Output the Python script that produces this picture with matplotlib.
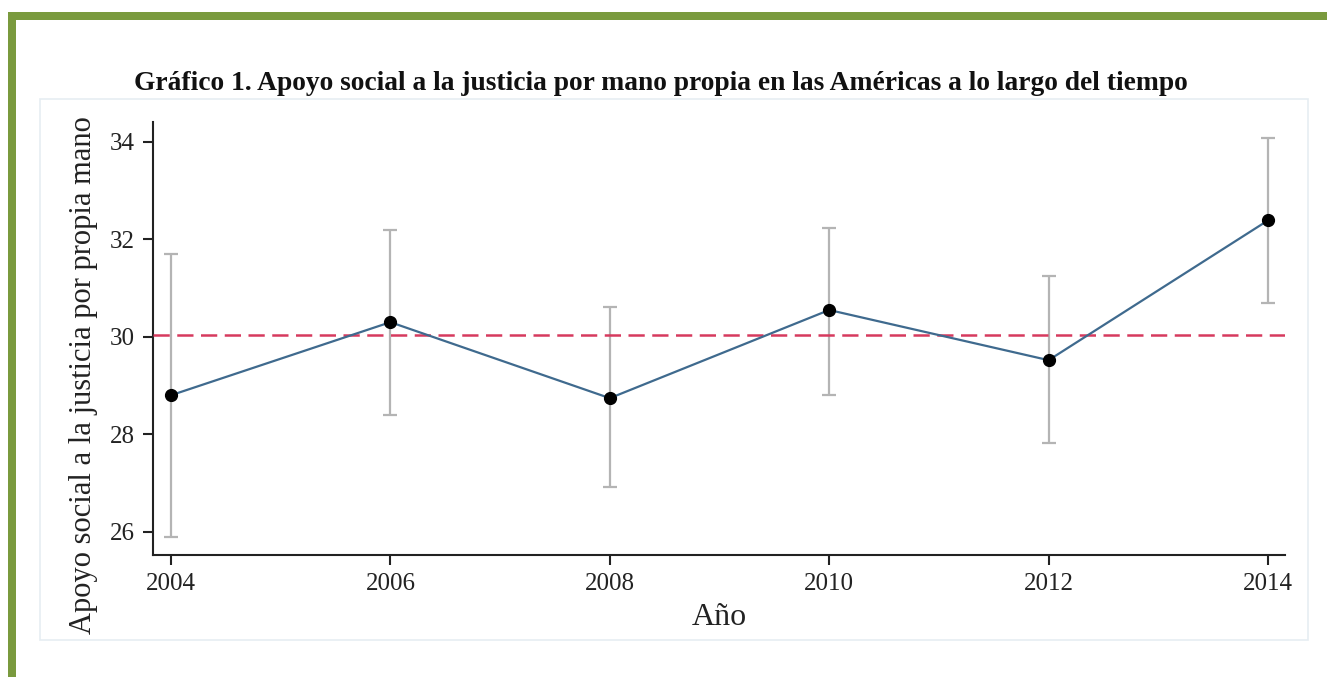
import matplotlib
matplotlib.use("Agg")
import matplotlib.pyplot as plt
from matplotlib.patches import Rectangle

years = [2004, 2006, 2008, 2010, 2012, 2014]
means = [28.80, 30.30, 28.74, 30.55, 29.52, 32.39]
ci_low = [25.88, 28.40, 26.91, 28.80, 27.81, 30.69]
ci_high = [31.71, 32.20, 30.61, 32.24, 31.25, 34.08]
overall_mean = 30.03
yticks = [26, 28, 30, 32, 34]
title = "Gráfico 1. Apoyo social a la justicia por mano propia en las Américas a lo largo del tiempo"
ylabel = "Apoyo social a la justicia por propia mano"
xlabel = "Año"

plt.rcParams["font.family"] = ["Liberation Serif", "DejaVu Serif"]

W, H = 1327, 677
fig = plt.figure(figsize=(W / 100, H / 100), dpi=100)
fig.patch.set_facecolor("white")

green = "#7a9a3e"
fig.patches.append(Rectangle((8 / W, 1 - 20 / H), 1 - 8 / W, 8 / H, transform=fig.transFigure,
                             facecolor=green, edgecolor="none", zorder=0))
fig.patches.append(Rectangle((8 / W, 0), 8 / W, 1 - 12 / H, transform=fig.transFigure,
                             facecolor=green, edgecolor="none", zorder=0))
fig.patches.append(Rectangle((40 / W, 1 - 640 / H), (1308 - 40) / W, (640 - 99) / H,
                             transform=fig.transFigure, facecolor="none",
                             edgecolor="#e6edf2", linewidth=1.2, zorder=0))

fig.text(661 / W, 1 - 83 / H, title, ha="center", va="center",
         fontsize=19.8, fontweight="bold", color="#111111")

ax = fig.add_axes([153 / W, 1 - 555 / H, (1285 - 153) / W, (555 - 122) / H])

yerr = [[m - lo for m, lo in zip(means, ci_low)], [hi - m for m, hi in zip(means, ci_high)]]
ax.errorbar(years, means, yerr=yerr, fmt="none", ecolor="#b4b4b4", elinewidth=1.6,
            capsize=5, capthick=1.6, zorder=2)
ax.axhline(overall_mean, color="#d63a5e", linewidth=1.8, dashes=(6.5, 3), zorder=3)
ax.plot(years, means, color="#3f6a8e", linewidth=1.6, zorder=4)
ax.plot(years, means, linestyle="none", marker="o", markersize=8.5, color="black", zorder=5)

ax.set_xlim(2003.836, 2014.155)
ax.set_ylim(25.52, 34.41)
ax.set_xticks(years)
ax.set_yticks(yticks)

for s in ["top", "right"]:
    ax.spines[s].set_visible(False)
for s in ["left", "bottom"]:
    ax.spines[s].set_linewidth(1.5)
    ax.spines[s].set_color("#222222")

ax.tick_params(axis="both", direction="out", length=7, width=1.5, color="#222222",
               labelsize=18, pad=6, labelcolor="#222222")

ax.set_xlabel(xlabel, fontsize=23, color="#222222", labelpad=6)
ax.set_ylabel(ylabel, fontsize=22, color="#222222")
ax.yaxis.set_label_coords(-0.049, 0.415)

fig.savefig("out.png", dpi=100)
